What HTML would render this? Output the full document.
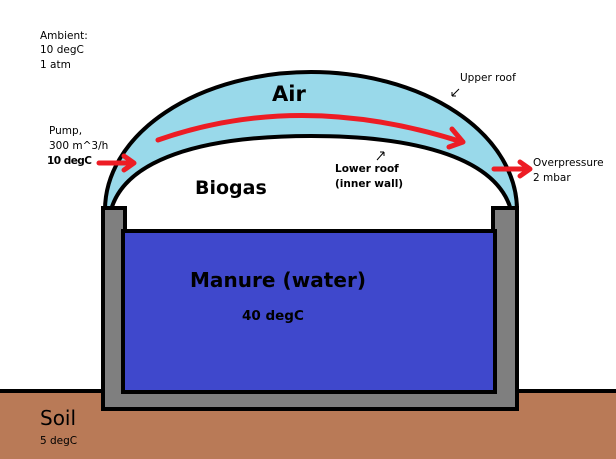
<!DOCTYPE html>
<html><head><style>
html,body{margin:0;padding:0;background:#fff;}
svg{display:block;}
text{font-family:"DejaVu Sans","Liberation Sans",sans-serif;fill:#000;}
</style></head><body>
<svg width="616" height="459" viewBox="0 0 616 459" xmlns="http://www.w3.org/2000/svg">
<rect x="0" y="0" width="616" height="459" fill="#fff"/>
<rect x="0" y="389" width="616" height="4" fill="#000"/>
<rect x="0" y="393" width="616" height="66" fill="#b97a57"/>
<path d="M105,210 A206,138 0 0 1 517,210 Z" fill="#99d9ea" stroke="#000" stroke-width="4"/>
<path d="M111,210 C125,160 200,136 311,136 C422,136 497,160 511,210 Z" fill="#fff" stroke="#000" stroke-width="4"/>
<rect x="111" y="208" width="400" height="6" fill="#fff"/>
<path d="M103,208 H125 V390 H493 V208 H517 V409 H103 Z" fill="#7f7f7f" stroke="#000" stroke-width="4" stroke-linejoin="miter"/>
<rect x="123" y="231" width="372" height="161" fill="#3f48cc" stroke="#000" stroke-width="4"/>
<g stroke="#ed1c24" stroke-width="5" fill="none" stroke-linecap="round" stroke-linejoin="round">
<path d="M158,140 Q300,90 462,142"/>
<path d="M452,129 L463,142 L449,147"/>
<path d="M99,163 H133"/><path d="M124,156 L134,163 L124,170"/>
<path d="M494,169 H528"/><path d="M520,162 L530,169 L520,176"/>
</g>
<g stroke="#000" stroke-width="1" fill="none">
<path d="M452,96 L459,89 M452,96 L452,92 M452,96 L456,96"/>
<path d="M377,160 L384,152 M384,152 L380,152 M384,152 L384,156"/>
</g>
<g font-size="10.5">
<text x="40" y="39">Ambient:</text>
<text x="40" y="53">10 degC</text>
<text x="40" y="68">1 atm</text>
<text x="49" y="134">Pump,</text>
<text x="49" y="149">300 m^3/h</text>
<text x="47" y="164" font-weight="bold" textLength="45">10 degC</text>
<text x="460" y="81">Upper roof</text>
<text x="335" y="172" font-weight="bold">Lower roof</text>
<text x="335" y="187" font-weight="bold">(inner wall)</text>
<text x="533" y="166">Overpressure</text>
<text x="533" y="181">2 mbar</text>
<text x="40" y="444">5 degC</text>
</g>
<text x="272" y="101" font-size="21" font-weight="bold">Air</text>
<text x="195" y="194" font-size="19" font-weight="bold">Biogas</text>
<text x="190" y="287" font-size="20" font-weight="bold" textLength="176">Manure (water)</text>
<text x="242" y="320" font-size="13.5" font-weight="bold">40 degC</text>
<text x="40" y="425" font-size="20">Soil</text>
</svg>
</body></html>
